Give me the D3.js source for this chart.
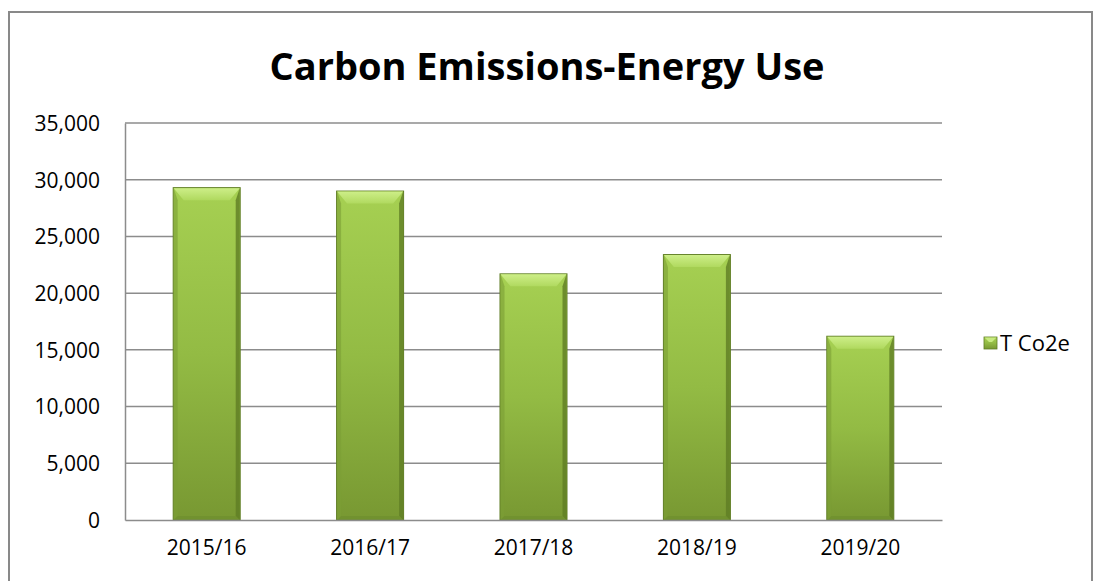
<!DOCTYPE html>
<html>
<head>
<meta charset="utf-8">
<script src="https://cdnjs.cloudflare.com/ajax/libs/d3/7.8.5/d3.min.js"></script>
<style>
  body { margin: 0; background: #fff; }
  text { font-family: "Open Sans", "Noto Sans", sans-serif; fill: #000; }
</style>
</head>
<body>
<div id="chart"></div>
<script>
var categories = ["2015/16", "2016/17", "2017/18", "2018/19", "2019/20"];
var values     = [29300, 29000, 21700, 23400, 16200];
var yTicks     = [0, 5000, 10000, 15000, 20000, 25000, 30000, 35000];
var seriesName = "T Co2e";
var chartTitle = "Carbon Emissions-Energy Use";

var W = 1093, H = 581;
var plot = {left: 125, right: 942, top: 123, bottom: 520};

var svg = d3.select("#chart").append("svg")
    .attr("width", W)
    .attr("height", H);

// gradients for the bevelled bars
var defs = svg.append("defs");
var g1 = defs.append("linearGradient").attr("id", "barFill")
    .attr("x1", 0).attr("y1", 0).attr("x2", 0).attr("y2", 1);
g1.append("stop").attr("offset", "0%").attr("stop-color", "#a6d052");
g1.append("stop").attr("offset", "50%").attr("stop-color", "#93bb44");
g1.append("stop").attr("offset", "100%").attr("stop-color", "#789832");

var g2 = defs.append("linearGradient").attr("id", "barTop")
    .attr("x1", 0).attr("y1", 0).attr("x2", 0).attr("y2", 1);
g2.append("stop").attr("offset", "0%").attr("stop-color", "#cdee88");
g2.append("stop").attr("offset", "100%").attr("stop-color", "#b0d95f");

// outer border
svg.append("rect")
    .attr("x", 9).attr("y", 12)
    .attr("width", W - 10).attr("height", H)
    .attr("fill", "none")
    .attr("stroke", "#898989")
    .attr("stroke-width", 2);

var x = d3.scaleBand()
    .domain(categories)
    .range([plot.left, plot.right])
    .paddingInner(0.59)
    .paddingOuter(0.295);

var y = d3.scaleLinear()
    .domain([0, 35000])
    .range([plot.bottom, plot.top]);

// title
svg.append("text")
    .attr("x", 547)
    .attr("y", 80)
    .attr("text-anchor", "middle")
    .style("font-size", "38px")
    .style("font-weight", "bold")
    .text(chartTitle);

// gridlines
svg.append("g").selectAll("line")
    .data(yTicks.filter(function(d) { return d > 0; }))
  .enter().append("line")
    .attr("x1", plot.left).attr("x2", plot.right)
    .attr("y1", function(d) { return y(d); })
    .attr("y2", function(d) { return y(d); })
    .attr("stroke", "#8c8c8c")
    .attr("stroke-width", 1.5);

// y axis
var yAxis = svg.append("g")
    .attr("transform", "translate(" + plot.left + ",0)")
    .call(d3.axisLeft(y).tickValues(yTicks).tickSize(0).tickPadding(25)
          .tickFormat(d3.format(",")));
yAxis.select(".domain").attr("stroke", "#8c8c8c").attr("stroke-width", 1.5);
yAxis.selectAll("text").style("font-size", "21px").attr("dy", "0.35em");

// bars
var bevel = 10;
var side = 4;
var bars = svg.append("g").selectAll("g")
    .data(values)
  .enter().append("g");

bars.append("rect")
    .attr("x", function(d, i) { return x(categories[i]); })
    .attr("y", function(d) { return y(d); })
    .attr("width", x.bandwidth())
    .attr("height", function(d) { return y(0) - y(d); })
    .attr("fill", "url(#barFill)")
    .attr("stroke", "#5f7d24")
    .attr("stroke-width", 1);

// top bevel
bars.append("path")
    .attr("fill", "url(#barTop)")
    .attr("d", function(d, i) {
      var x0 = x(categories[i]) + 0.5, x1 = x0 + x.bandwidth() - 1, t = y(d) + 0.5;
      return "M" + x0 + "," + t + "L" + x1 + "," + t +
             "L" + (x1 - bevel) + "," + (t + bevel + 2) +
             "L" + (x0 + bevel) + "," + (t + bevel + 2) + "Z";
    });

// right bevel (dark)
bars.append("path")
    .attr("fill", "#5f7d24")
    .attr("opacity", 0.8)
    .attr("d", function(d, i) {
      var x1 = x(categories[i]) + x.bandwidth() - 0.5, t = y(d) + 0.5, b = y(0);
      return "M" + x1 + "," + t + "L" + x1 + "," + b +
             "L" + (x1 - side) + "," + (b - side) +
             "L" + (x1 - side) + "," + (t + bevel + 2) + "Z";
    });

// left bevel
bars.append("path")
    .attr("fill", "#7c9e35")
    .attr("opacity", 0.6)
    .attr("d", function(d, i) {
      var x0 = x(categories[i]) + 0.5, t = y(d) + 0.5, b = y(0);
      return "M" + x0 + "," + t + "L" + x0 + "," + b +
             "L" + (x0 + side) + "," + (b - side) +
             "L" + (x0 + side) + "," + (t + bevel + 2) + "Z";
    });

// bottom bevel
bars.append("path")
    .attr("fill", "#6e8e2e")
    .attr("opacity", 0.7)
    .attr("d", function(d, i) {
      var x0 = x(categories[i]) + 0.5, x1 = x0 + x.bandwidth() - 1, b = y(0);
      return "M" + x0 + "," + b + "L" + x1 + "," + b +
             "L" + (x1 - side) + "," + (b - side) +
             "L" + (x0 + side) + "," + (b - side) + "Z";
    });

// x axis
var xAxis = svg.append("g")
    .attr("transform", "translate(0," + plot.bottom + ")")
    .call(d3.axisBottom(x).tickSize(0).tickPadding(20));
xAxis.select(".domain").attr("stroke", "#8c8c8c").attr("stroke-width", 1.5);
xAxis.selectAll("text").style("font-size", "21px");

// legend
var legend = svg.append("g").attr("transform", "translate(984,337)");
legend.append("rect")
    .attr("width", 13).attr("height", 12)
    .attr("fill", "url(#barFill)")
    .attr("stroke", "#5f7d24").attr("stroke-width", 0.8);
legend.append("path")
    .attr("d", "M0.5,0.5L12.5,0.5L8,5L5,5Z")
    .attr("fill", "#c8ea80");
legend.append("text")
    .attr("x", 16).attr("y", 6)
    .attr("dy", "0.35em")
    .style("font-size", "22px")
    .text(seriesName);
</script>
</body>
</html>
